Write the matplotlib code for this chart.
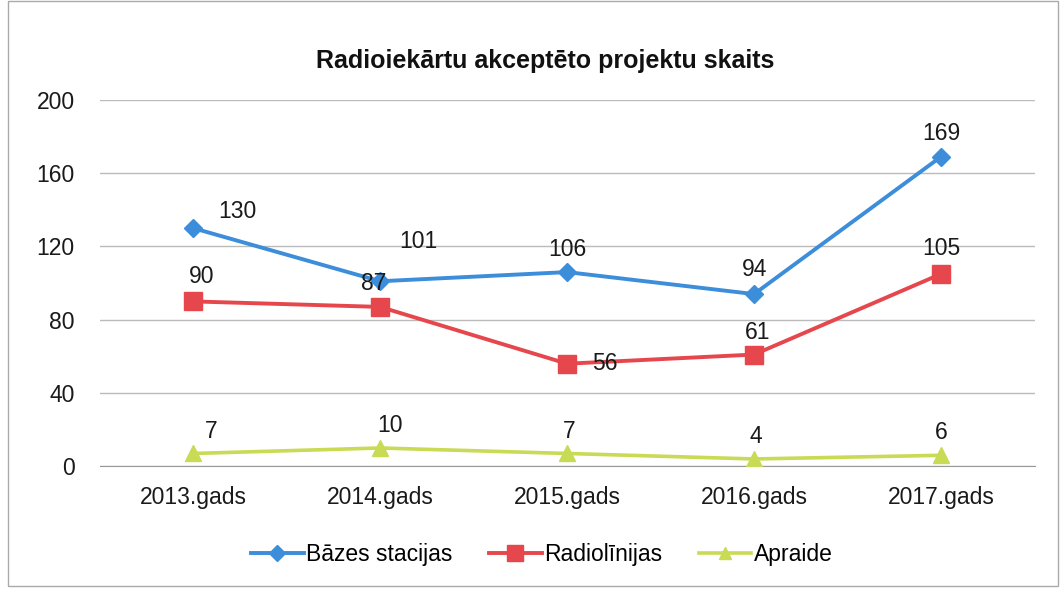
import matplotlib
matplotlib.use("Agg")
import matplotlib.pyplot as plt

categories = ["2013.gads", "2014.gads", "2015.gads", "2016.gads", "2017.gads"]
bazes = [130, 101, 106, 94, 169]
radio = [90, 87, 56, 61, 105]
apraide = [7, 10, 7, 4, 6]
yticks = [0, 40, 80, 120, 160, 200]

plt.rcParams['font.family'] = ['Liberation Sans', 'DejaVu Sans']

fig = plt.figure(figsize=(10.6, 5.91), dpi=100)
ax = fig.add_axes([0.094, 0.211, 0.882, 0.62])
x = list(range(len(categories)))

c_blue = "#3C8DDA"
c_red = "#E5474D"
c_green = "#C9DA55"

ax.plot(x, bazes, color=c_blue, lw=2.8, marker="D", ms=9, label="Bāzes stacijas", zorder=3)
ax.plot(x, radio, color=c_red, lw=2.8, marker="s", ms=13, label="Radiolīnijas", zorder=3)
ax.plot(x, apraide, color=c_green, lw=2.6, marker="^", ms=11, label="Apraide", zorder=3)

fs = 16.5
# label offsets in pixels (dx, dy up)
blue_off = [(44, 17), (38, 40), (0, 23), (0, 25), (0, 23)]
red_off = [(8, 25), (-6, 23), (38, 0), (4, 22), (0, 25)]
green_off = [(18, 22), (10, 22), (2, 22), (2, 22), (0, 23)]
px = 0.72
for i in x:
    for vals, offs in ((bazes, blue_off), (radio, red_off), (apraide, green_off)):
        ax.annotate(str(vals[i]), (x[i], vals[i]), xytext=(offs[i][0] * px, offs[i][1] * px),
                    textcoords="offset points", ha="center", va="center", fontsize=fs,
                    color="#1a1a1a", zorder=4)

ax.set_xlim(-0.5, len(categories) - 0.5)
ax.set_ylim(0, 200)
ax.set_yticks(yticks)
ax.set_xticks(x)
ax.set_xticklabels(categories)
ax.tick_params(axis="both", length=0, labelsize=fs, colors="#1a1a1a")
ax.tick_params(axis="y", pad=18)
ax.tick_params(axis="x", pad=14)
ax.grid(axis="y", color="#BBBBBB", lw=1)
ax.set_axisbelow(True)
for s in ["top", "right", "left"]:
    ax.spines[s].set_visible(False)
ax.spines["bottom"].set_color("#999999")

fig.text(0.514, 0.897, "Radioiekārtu akceptēto projektu skaits", ha="center", va="center",
         fontsize=18, fontweight="bold", color="#111111")

leg = fig.legend(loc="center", bbox_to_anchor=(0.511, 0.062), ncol=3, frameon=False,
                 fontsize=fs, handlelength=2.3, columnspacing=1.6, handletextpad=0.1,
                 markerscale=0.85)

border = plt.Rectangle((0.008, 0.008), 0.99, 0.99, transform=fig.transFigure, fill=False,
                       edgecolor="#AAAAAA", lw=1)
fig.add_artist(border)

fig.savefig("out.png", dpi=100)
